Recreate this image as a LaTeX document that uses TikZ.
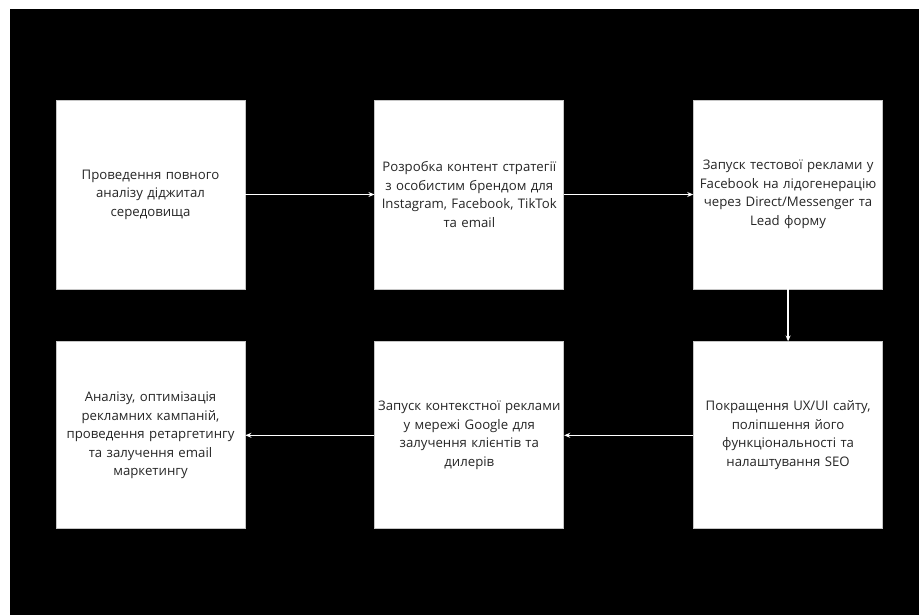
\documentclass[tikz,border=0pt]{standalone}
\usepackage{fontspec}
\setmainfont{Open Sans}
\usetikzlibrary{positioning,arrows.meta}
\begin{document}
\begin{tikzpicture}[x=1pt,y=1pt,
    node distance=52pt and 129pt,
    stepbox/.style={draw=gray!45, line width=0.8pt, fill=white, minimum width=189pt, minimum height=189pt,
        text width=189pt, inner sep=0pt, align=center, text=black!85,
        font=\fontsize{13.2}{18.5}\selectfont},
    flow/.style={draw=white, line width=1.3pt, -{Stealth[length=6pt,width=5pt]}}]
    \useasboundingbox (0,0) rectangle (919,-615);
    \fill[black] (10,-9) rectangle (919,-615);
    % upper row
    \node[stepbox] (analiz) at (150.5,-194.5) {Проведення повного\\аналізу діджитал\\середовища};
    \node[stepbox, right=of analiz] (strategiya) {Розробка контент стратегії\\з особистим брендом для\\Instagram, Facebook, TikTok\\та email};
    \node[stepbox, right=of strategiya] (testova) {Запуск тестової реклами у\\Facebook на лідогенерацію\\через Direct/Messenger та\\Lead форму};
    % lower row
    \node[stepbox, minimum height=187pt, below=of testova] (sait) {Покращення UX/UI сайту,\\поліпшення його\\функціональності та\\налаштування SEO};
    \node[stepbox, minimum height=187pt, left=of sait] (google) {Запуск контекстної реклами\\у мережі Google для\\залучення клієнтів та\\дилерів};
    \node[stepbox, minimum height=187pt, left=of google] (retarget) {Аналізу, оптимізація\\рекламних кампаній,\\проведення ретаргетингу\\та залучення email\\маркетингу};
    % connectors
    \draw[flow] (analiz) -- (strategiya);
    \draw[flow] (strategiya) -- (testova);
    \draw[flow] (testova) -- (sait);
    \draw[flow] (sait) -- (google);
    \draw[flow] (google) -- (retarget);
\end{tikzpicture}
\end{document}
